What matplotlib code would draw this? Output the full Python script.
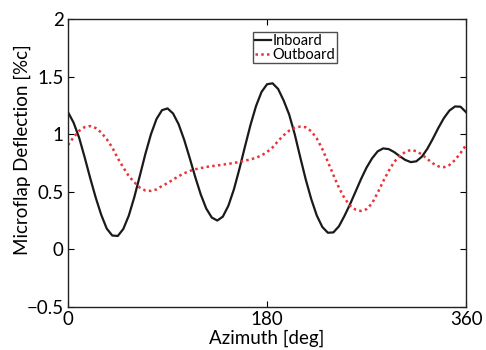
import matplotlib
matplotlib.use("Agg")
import matplotlib.pyplot as plt

azimuth = list(range(0, 361, 5))

inboard = [1.19, 1.10, 0.97, 0.80, 0.62, 0.45, 0.30, 0.18, 0.12,
           0.116, 0.177, 0.294, 0.455, 0.641, 0.830, 0.999, 1.131, 1.208,
           1.223, 1.179, 1.086, 0.952, 0.794, 0.629, 0.477, 0.354, 0.276,
           0.25, 0.284, 0.378, 0.520, 0.698, 0.891, 1.079, 1.243, 1.366, 1.433,
           1.441, 1.392, 1.292, 1.17, 1.00, 0.80, 0.606, 0.435, 0.293, 0.194, 0.144,
           0.147, 0.20, 0.29, 0.39, 0.50, 0.61, 0.71, 0.79, 0.85, 0.876,
           0.870, 0.844, 0.808, 0.776, 0.757,
           0.764, 0.804, 0.873, 0.961, 1.055, 1.140, 1.205, 1.240, 1.238, 1.19]

outboard = [0.905, 0.973, 1.028, 1.061, 1.07,
            1.053, 1.014, 0.956, 0.884, 0.79, 0.71, 0.635, 0.582, 0.535, 0.510,
            0.507, 0.52, 0.55, 0.575, 0.605, 0.635, 0.66, 0.68, 0.695, 0.705,
            0.715, 0.722, 0.728, 0.735, 0.742, 0.75, 0.758, 0.77, 0.78, 0.795,
            0.815, 0.845, 0.885, 0.94, 0.99, 1.03, 1.055, 1.065, 1.059,
            1.025, 0.962, 0.87, 0.76, 0.645, 0.535, 0.445, 0.38, 0.345, 0.333,
            0.349, 0.40, 0.49, 0.59, 0.68, 0.76, 0.81, 0.845, 0.863,
            0.852, 0.823, 0.784, 0.746, 0.720, 0.713,
            0.732, 0.775, 0.836, 0.905]

xticks = [0, 180, 360]
yticks = [-0.5, 0, 0.5, 1, 1.5, 2]
ytick_labels = ["\u22120.5", "0", "0.5", "1", "1.5", "2"]

plt.rcParams['font.family'] = ['Lato', 'DejaVu Sans']

fig = plt.figure(figsize=(4.86, 3.5), dpi=100)
ax = fig.add_axes([0.140, 0.123, 0.819, 0.823])

ax.plot(azimuth, inboard, color='#1a1a1a', lw=1.6, label='Inboard')
ax.plot(azimuth, outboard, color='#e8333a', lw=1.8, ls=(0, (1, 1.3)), label='Outboard')

ax.set_xlim(0, 360)
ax.set_ylim(-0.5, 2)
ax.set_xticks(xticks)
ax.set_yticks(yticks)
ax.set_yticklabels(ytick_labels)
ax.tick_params(direction='in', top=True, right=True, labelsize=13.5, length=4, width=0.8, pad=3)
for s in ax.spines.values():
    s.set_linewidth(1.0)
    s.set_color('#222222')

ax.set_xlabel('Azimuth [deg]', fontsize=13.5, labelpad=1)
ax.set_ylabel('Microflap Deflection [%c]', fontsize=13.5)
ax.yaxis.set_label_coords(-0.093, 0.545)

leg = ax.legend(loc='upper left', bbox_to_anchor=(0.465, 0.955), fontsize=10.5,
                frameon=True, fancybox=False, edgecolor='#222222',
                handlelength=1.1, handletextpad=0.1, borderpad=0.12,
                labelspacing=0.0, borderaxespad=0)
leg.get_frame().set_linewidth(1.0)

fig.savefig('out.png', dpi=100)
